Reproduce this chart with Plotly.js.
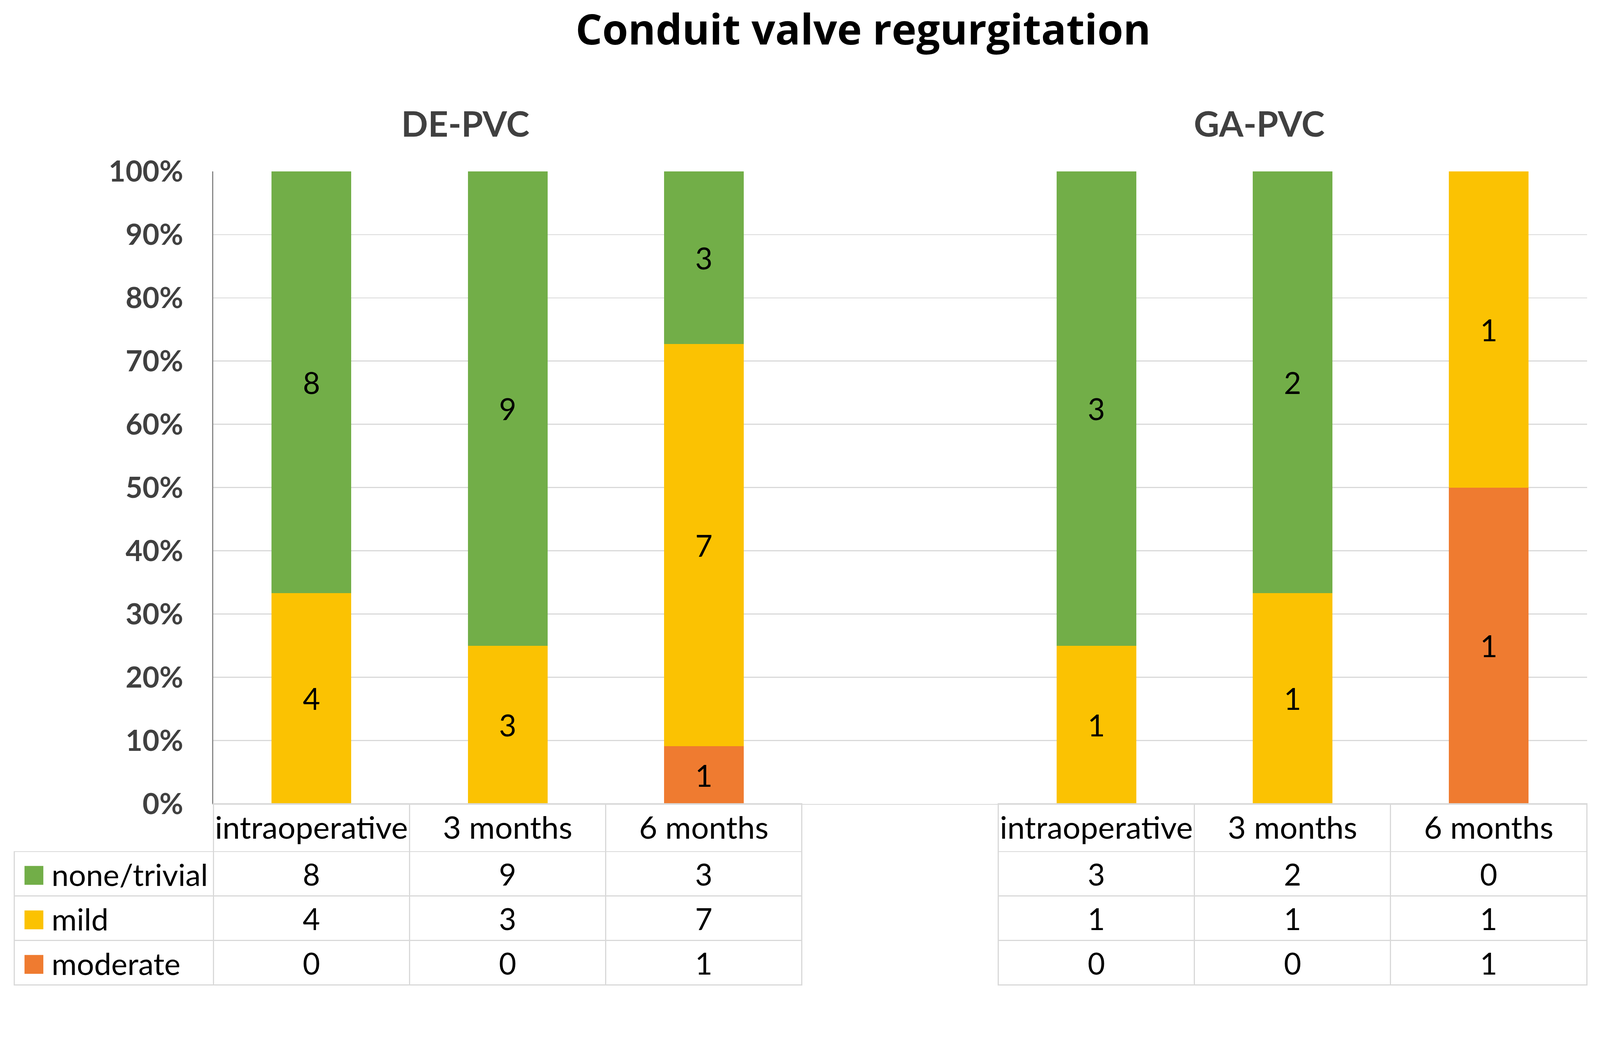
<!DOCTYPE html>
<html><head><meta charset="utf-8">
<script src="https://cdn.plot.ly/plotly-3.0.1.min.js"></script>
<style>html,body{margin:0;padding:0;background:#fff;overflow:hidden;}</style>
</head><body>
<div id="chart" style="width:4282px;height:2684px;"></div>
<script>
// ---------- data ----------
const chartTitle = 'Conduit valve regurgitation';
const groups = ['DE-PVC', 'GA-PVC'];
const timepoints = ['intraoperative', '3 months', '6 months'];
const severities = ['none/trivial', 'mild', 'moderate'];
const deNoneTrivial = [8, 9, 3];
const deMild = [4, 3, 7];
const deModerate = [0, 0, 1];
const gaNoneTrivial = [3, 2, 0];
const gaMild = [1, 1, 1];
const gaModerate = [0, 0, 1];
const yTickValues = [0, 10, 20, 30, 40, 50, 60, 70, 80, 90, 100];
const yTickLabels = ['0%', '10%', '20%', '30%', '40%', '50%', '60%', '70%', '80%', '90%', '100%'];

// ---------- style ----------
const colors = {'none/trivial': '#72ae48', 'mild': '#fbc202', 'moderate': '#ef7b30'};
const gridColor = '#d9d9d9';
const CLEAR = 'rgba(0,0,0,0)';
const FONT = 'Lato, "Open Sans", sans-serif';
const TITLE_FONT = '"Open Sans", Lato, sans-serif';
const SQUARE_FONT = '"DejaVu Sans", sans-serif';

const W = 4282, H = 2684;
const m = {l: 38, r: 35, t: 459, b: 20};
const plotW = W - m.l - m.r, plotH = H - m.t - m.b;
const yAxisPx = 571, baselinePx = 2152;
const textShiftPx = 23;            // plotly table text is top-aligned; shift it to row centres
const squareColPx = 92;
const xStart = (yAxisPx - m.l) / plotW;
const yStart = (H - m.b - baselinePx) / plotH;
const nCols = 7;
const colFrac = (1 - xStart) / nCols;
const colPx = colFrac * plotW;

const deKeys = timepoints.map(t => groups[0] + ' ' + t);
const gaKeys = timepoints.map(t => groups[1] + ' ' + t);
const gapKey = 'gap';
const categoryArray = deKeys.concat([gapKey], gaKeys);

function barTrace(name, de, ga) {
  const vals = de.concat(ga);
  return {
    type: 'bar', name: name,
    x: deKeys.concat(gaKeys), y: vals,
    text: vals.map(v => v ? String(v) : ''),
    texttemplate: '%{text}',
    textposition: 'inside', insidetextanchor: 'middle', textangle: 0,
    textfont: {family: FONT, size: 80, color: '#000000'},
    marker: {color: colors[name], line: {width: 0}},
    hoverinfo: 'skip', showlegend: false
  };
}

const bars = [
  barTrace('moderate', deModerate, gaModerate),
  barTrace('mild', deMild, gaMild),
  barTrace('none/trivial', deNoneTrivial, gaNoneTrivial)
];

function colValues(none, mild, mod, i) { return [none[i], mild[i], mod[i]]; }

const HEADER_H = 128, CELL_H = 119;
const deDomainX = [0, xStart + 3 * colFrac];
const gaDomainX = [xStart + 4 * colFrac, 1];
const borderY = [0, yStart];
const textY = [0, yStart - textShiftPx / plotH];

const deData = timepoints.map((t, i) => colValues(deNoneTrivial, deMild, deModerate, i));
const gaData = timepoints.map((t, i) => colValues(gaNoneTrivial, gaMild, gaModerate, i));
const squareCol = severities.map(() => '■');

function borderTable(domainX, widths, nRows, headerLineColors) {
  const empty = widths.map(() => Array(nRows).fill(''));
  return {
    type: 'table', domain: {x: domainX, y: borderY}, columnwidth: widths,
    header: {values: widths.map(() => ''), height: HEADER_H, line: {color: headerLineColors, width: 3}, fill: {color: CLEAR}},
    cells: {values: empty, height: CELL_H, line: {color: gridColor, width: 3}, fill: {color: CLEAR}}
  };
}

const deWidths = [yAxisPx - m.l, colPx, colPx, colPx];
const gaWidths = [colPx, colPx, colPx];

const tables = [
  borderTable(deDomainX, deWidths, severities.length, [CLEAR, gridColor, gridColor, gridColor]),
  borderTable(gaDomainX, gaWidths, severities.length, gridColor),
  { // DE text: legend square, legend label, three time points
    type: 'table', domain: {x: deDomainX, y: textY},
    columnwidth: [squareColPx, yAxisPx - m.l - squareColPx, colPx, colPx, colPx],
    header: {values: ['', ''].concat(timepoints), height: HEADER_H, align: 'center',
             font: {family: FONT, size: 84, color: '#000000'},
             line: {color: CLEAR, width: 0}, fill: {color: CLEAR}},
    cells: {values: [squareCol, severities].concat(deData), height: CELL_H,
            align: ['right', 'left', 'center', 'center', 'center'],
            font: {family: [SQUARE_FONT, FONT, FONT, FONT, FONT],
                   size: [66, 82, 80, 80, 80],
                   color: [severities.map(s => colors[s]), '#000000', '#000000', '#000000', '#000000']},
            line: {color: CLEAR, width: 0}, fill: {color: CLEAR}}
  },
  { // GA text
    type: 'table', domain: {x: gaDomainX, y: textY}, columnwidth: gaWidths,
    header: {values: timepoints, height: HEADER_H, align: 'center',
             font: {family: FONT, size: 84, color: '#000000'},
             line: {color: CLEAR, width: 0}, fill: {color: CLEAR}},
    cells: {values: gaData, height: CELL_H, align: 'center',
            font: {family: FONT, size: 80, color: '#000000'},
            line: {color: CLEAR, width: 0}, fill: {color: CLEAR}}
  }
];

const groupFont = {family: FONT, size: 94, color: '#404040', weight: 'bold'};
const layout = {
  width: W, height: H,
  margin: m,
  paper_bgcolor: '#ffffff', plot_bgcolor: '#ffffff',
  barmode: 'stack', barnorm: 'percent', bargap: 0.594,
  showlegend: false,
  title: {
    text: chartTitle,
    font: {family: TITLE_FONT, size: 112, color: '#000000', weight: 'bold'},
    xref: 'container', x: 2310 / W, xanchor: 'center',
    yref: 'container', y: 1 - 80 / H, yanchor: 'middle'
  },
  xaxis: {
    type: 'category', categoryorder: 'array', categoryarray: categoryArray,
    range: [-0.5, 6.5], domain: [xStart, 1],
    showticklabels: false, showgrid: false, zeroline: false, ticks: '',
    showline: true, linecolor: gridColor, linewidth: 3, fixedrange: true
  },
  yaxis: {
    domain: [yStart, 1], range: [0, 100],
    tickmode: 'array', tickvals: yTickValues, ticktext: yTickLabels,
    showgrid: true, gridcolor: gridColor, gridwidth: 3, zeroline: false,
    showline: true, linecolor: '#868686', linewidth: 3, ticks: '',
    ticklabelstandoff: 62,
    tickfont: {family: FONT, size: 78, color: '#404040', weight: 'bold'},
    fixedrange: true
  },
  annotations: [
    {text: groups[0], xref: 'paper', yref: 'paper', x: (1245 - m.l) / plotW, y: (H - m.b - 329) / plotH,
     xanchor: 'center', yanchor: 'middle', showarrow: false, font: groupFont},
    {text: groups[1], xref: 'paper', yref: 'paper', x: (3370 - m.l) / plotW, y: (H - m.b - 329) / plotH,
     xanchor: 'center', yanchor: 'middle', showarrow: false, font: groupFont}
  ]
};

// fit the 4282x2684 figure into the actual viewport if it is smaller
const el = document.getElementById('chart');
const fit = Math.min(window.innerWidth / W, window.innerHeight / H);
if (fit > 0 && fit < 0.999) {
  el.style.transformOrigin = '0 0';
  el.style.transform = 'scale(' + fit + ')';
}

Plotly.newPlot('chart', bars.concat(tables), layout, {displayModeBar: false, staticPlot: true});
</script>
</body></html>
